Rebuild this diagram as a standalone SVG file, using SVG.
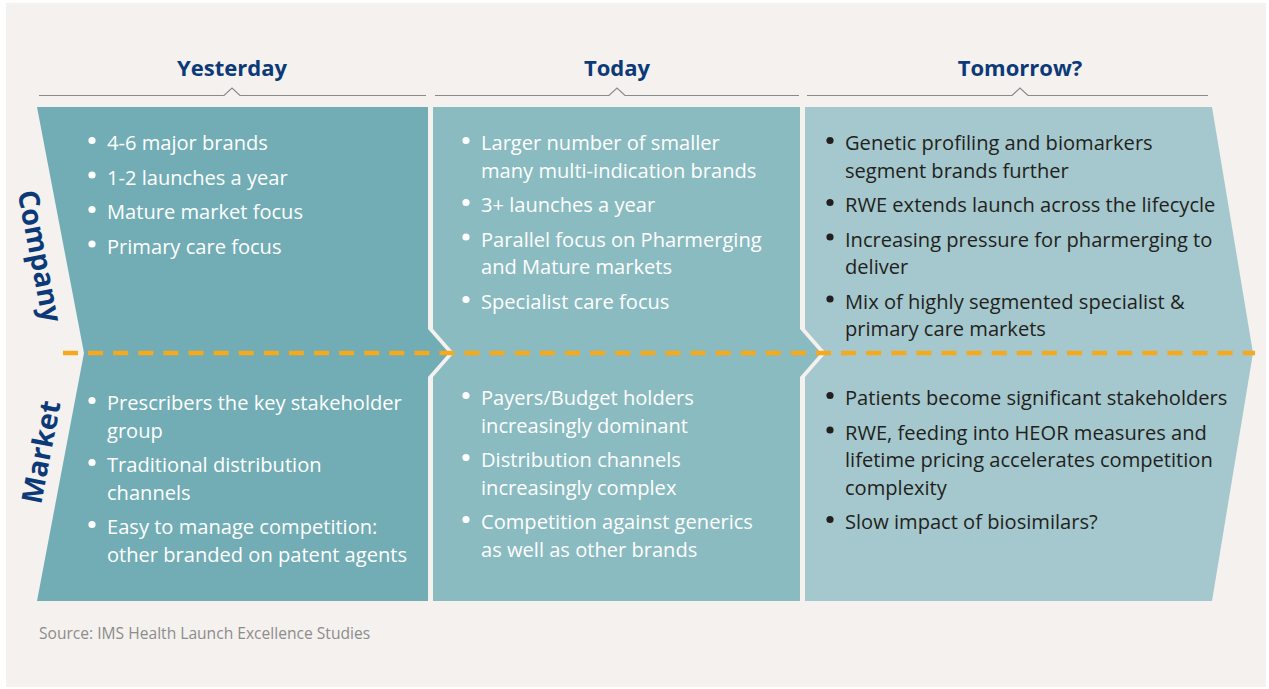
<svg xmlns="http://www.w3.org/2000/svg" width="1269" height="689" viewBox="0 0 1269 689">
  <style>
    .head { font-family: "Open Sans", "Liberation Sans", sans-serif; font-weight: 700; font-size: 22px; fill: #0c3a78; text-anchor: middle; }
    .row { font-family: "Open Sans", "Liberation Sans", sans-serif; font-weight: 700; font-size: 28.5px; fill: #0c3a78; text-anchor: middle; }
    .body { font-family: "Open Sans", "Liberation Sans", sans-serif; font-size: 20.1px; }
    .light { fill: #ffffff; }
    .dark { fill: #231f20; }
    .rule { fill: none; stroke: #8a8a8a; stroke-width: 1.2; }
    .src { font-family: "Open Sans", "Liberation Sans", sans-serif; font-size: 15.6px; fill: #8c8c8c; }
  </style>

  <rect x="0" y="0" width="1269" height="689" fill="#ffffff"/>
  <rect x="6" y="3" width="1260" height="684" fill="#f4f1ee"/>

  <!-- column headings -->
  <g id="head-yesterday">
    <text class="head" x="232" y="76">Yesterday</text>
    <polyline class="rule" points="39,95.5 224,95.5 232,88 240,95.5 426,95.5"/>
  </g>
  <g id="head-today">
    <text class="head" x="617" y="76">Today</text>
    <polyline class="rule" points="435,95.5 609,95.5 617,88 625,95.5 799,95.5"/>
  </g>
  <g id="head-tomorrow">
    <text class="head" x="1020" y="76">Tomorrow?</text>
    <polyline class="rule" points="807,95.5 1012,95.5 1020,88 1028,95.5 1208,95.5"/>
  </g>

  <!-- Yesterday panel -->
  <g id="col-yesterday">
    <path d="M37,107 H428 V329 L449,353 L428,377 V601 H37 L84,353 Z" fill="#72adb5"/>
    <g class="light">
      <circle cx="92" cy="140.5" r="3.6"/>
      <circle cx="92" cy="175" r="3.6"/>
      <circle cx="92" cy="209.5" r="3.6"/>
      <circle cx="92" cy="244" r="3.6"/>
      <circle cx="92" cy="400.5" r="3.6"/>
      <circle cx="92" cy="462.5" r="3.6"/>
      <circle cx="92" cy="524.5" r="3.6"/>
    </g>
    <text class="body light">
      <tspan x="107" y="150">4-6 major brands</tspan>
      <tspan x="107" y="184.5">1-2 launches a year</tspan>
      <tspan x="107" y="219">Mature market focus</tspan>
      <tspan x="107" y="253.5">Primary care focus</tspan>
      <tspan x="107" y="410">Prescribers the key stakeholder</tspan>
      <tspan x="107" y="437.5">group</tspan>
      <tspan x="107" y="472">Traditional distribution</tspan>
      <tspan x="107" y="499.5">channels</tspan>
      <tspan x="107" y="534">Easy to manage competition:</tspan>
      <tspan x="107" y="561.5">other branded on patent agents</tspan>
    </text>
  </g>

  <!-- Today panel -->
  <g id="col-today">
    <path d="M433,107 H800 V329 L821,353 L800,377 V601 H433 V377 L454,353 L433,329 Z" fill="#8abbc1"/>
    <g class="light">
      <circle cx="466" cy="140.5" r="3.6"/>
      <circle cx="466" cy="202.5" r="3.6"/>
      <circle cx="466" cy="237" r="3.6"/>
      <circle cx="466" cy="299.5" r="3.6"/>
      <circle cx="466" cy="395.5" r="3.6"/>
      <circle cx="466" cy="457.5" r="3.6"/>
      <circle cx="466" cy="519.5" r="3.6"/>
    </g>
    <text class="body light">
      <tspan x="481" y="150">Larger number of smaller</tspan>
      <tspan x="481" y="177.5">many multi-indication brands</tspan>
      <tspan x="481" y="212">3+ launches a year</tspan>
      <tspan x="481" y="246.5">Parallel focus on Pharmerging</tspan>
      <tspan x="481" y="274">and Mature markets</tspan>
      <tspan x="481" y="309">Specialist care focus</tspan>
      <tspan x="481" y="405">Payers/Budget holders</tspan>
      <tspan x="481" y="432.5">increasingly dominant</tspan>
      <tspan x="481" y="467">Distribution channels</tspan>
      <tspan x="481" y="494.5">increasingly complex</tspan>
      <tspan x="481" y="529">Competition against generics</tspan>
      <tspan x="481" y="556.5">as well as other brands</tspan>
    </text>
  </g>

  <!-- Tomorrow panel -->
  <g id="col-tomorrow">
    <path d="M805,107 H1212 L1253,353 L1212,601 H805 V377 L826,353 L805,329 Z" fill="#a4c8cd"/>
    <g class="dark">
      <circle cx="830" cy="140.5" r="3.6"/>
      <circle cx="830" cy="202.5" r="3.6"/>
      <circle cx="830" cy="237" r="3.6"/>
      <circle cx="830" cy="299" r="3.6"/>
      <circle cx="830" cy="395.5" r="3.6"/>
      <circle cx="830" cy="430" r="3.6"/>
      <circle cx="830" cy="519.5" r="3.6"/>
    </g>
    <text class="body dark">
      <tspan x="845" y="150">Genetic profiling and biomarkers</tspan>
      <tspan x="845" y="177.5">segment brands further</tspan>
      <tspan x="845" y="212">RWE extends launch across the lifecycle</tspan>
      <tspan x="845" y="246.5">Increasing pressure for pharmerging to</tspan>
      <tspan x="845" y="274">deliver</tspan>
      <tspan x="845" y="308.5">Mix of highly segmented specialist &amp;</tspan>
      <tspan x="845" y="336">primary care markets</tspan>
      <tspan x="845" y="405">Patients become significant stakeholders</tspan>
      <tspan x="845" y="439.5">RWE, feeding into HEOR measures and</tspan>
      <tspan x="845" y="467">lifetime pricing accelerates competition</tspan>
      <tspan x="845" y="494.5">complexity</tspan>
      <tspan x="845" y="529">Slow impact of biosimilars?</tspan>
    </text>
  </g>

  <!-- row labels, tilted along the chevron edge -->
  <g id="label-company">
    <text class="row" transform="translate(40,256) rotate(79)" x="0" y="10">Company</text>
  </g>
  <g id="label-market">
    <text class="row" transform="translate(41,452) rotate(-79)" x="0" y="10">Market</text>
  </g>

  <!-- divider between the two rows -->
  <g id="connectors">
    <line x1="63" y1="353" x2="1255" y2="353" stroke="#f6a91b" stroke-width="4.5" stroke-dasharray="15 10.1"/>
  </g>

  <text class="src" x="39" y="639">Source: IMS Health Launch Excellence Studies</text>
</svg>
